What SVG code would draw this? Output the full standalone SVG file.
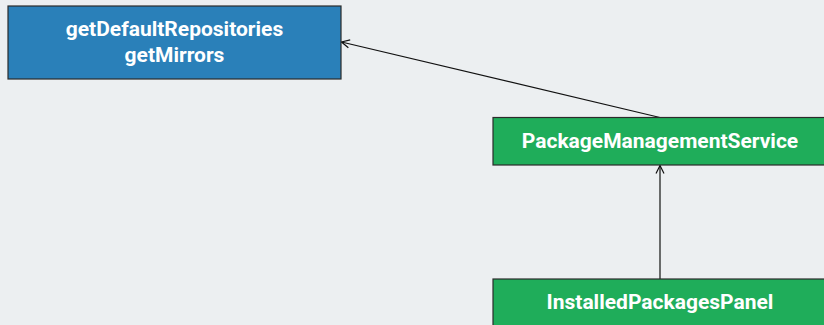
<svg xmlns="http://www.w3.org/2000/svg" width="824" height="325" viewBox="0 0 824 325">
<defs>
<style>
.node rect{stroke:#2b2b2b;stroke-width:1.2}
.blue rect{fill:#2a80b9}
.green rect{fill:#1fad5a}
.node text{font-family:Roboto,"Liberation Sans",sans-serif;font-weight:bold;font-size:21px;fill:#ffffff;text-anchor:middle}
.edge{stroke:#111;stroke-width:1.2;fill:none;marker-end:url(#arr)}
</style>
<marker id="arr" markerWidth="10" markerHeight="10" refX="9" refY="5" orient="auto" markerUnits="userSpaceOnUse">
<path d="M1,1 L9,5 L1,9" fill="none" stroke="#111" stroke-width="1.2"/>
</marker>
</defs>
<rect width="824" height="325" fill="#eceff1"/>
<g id="edges">
<line class="edge" x1="660" y1="117.5" x2="341.5" y2="42"/>
<line class="edge" x1="660" y1="279" x2="660" y2="165.5"/>
</g>
<g id="getDefaultRepositories" class="node blue">
<rect x="8" y="6" width="333" height="73"/>
<text x="174.5" y="36">getDefaultRepositories</text>
<text x="174.5" y="62">getMirrors</text>
</g>
<g id="PackageManagementService" class="node green">
<rect x="493" y="117.5" width="334" height="47.5"/>
<text x="660" y="148">PackageManagementService</text>
</g>
<g id="InstalledPackagesPanel" class="node green">
<rect x="493" y="279" width="334" height="60"/>
<text x="660" y="309">InstalledPackagesPanel</text>
</g>
</svg>
